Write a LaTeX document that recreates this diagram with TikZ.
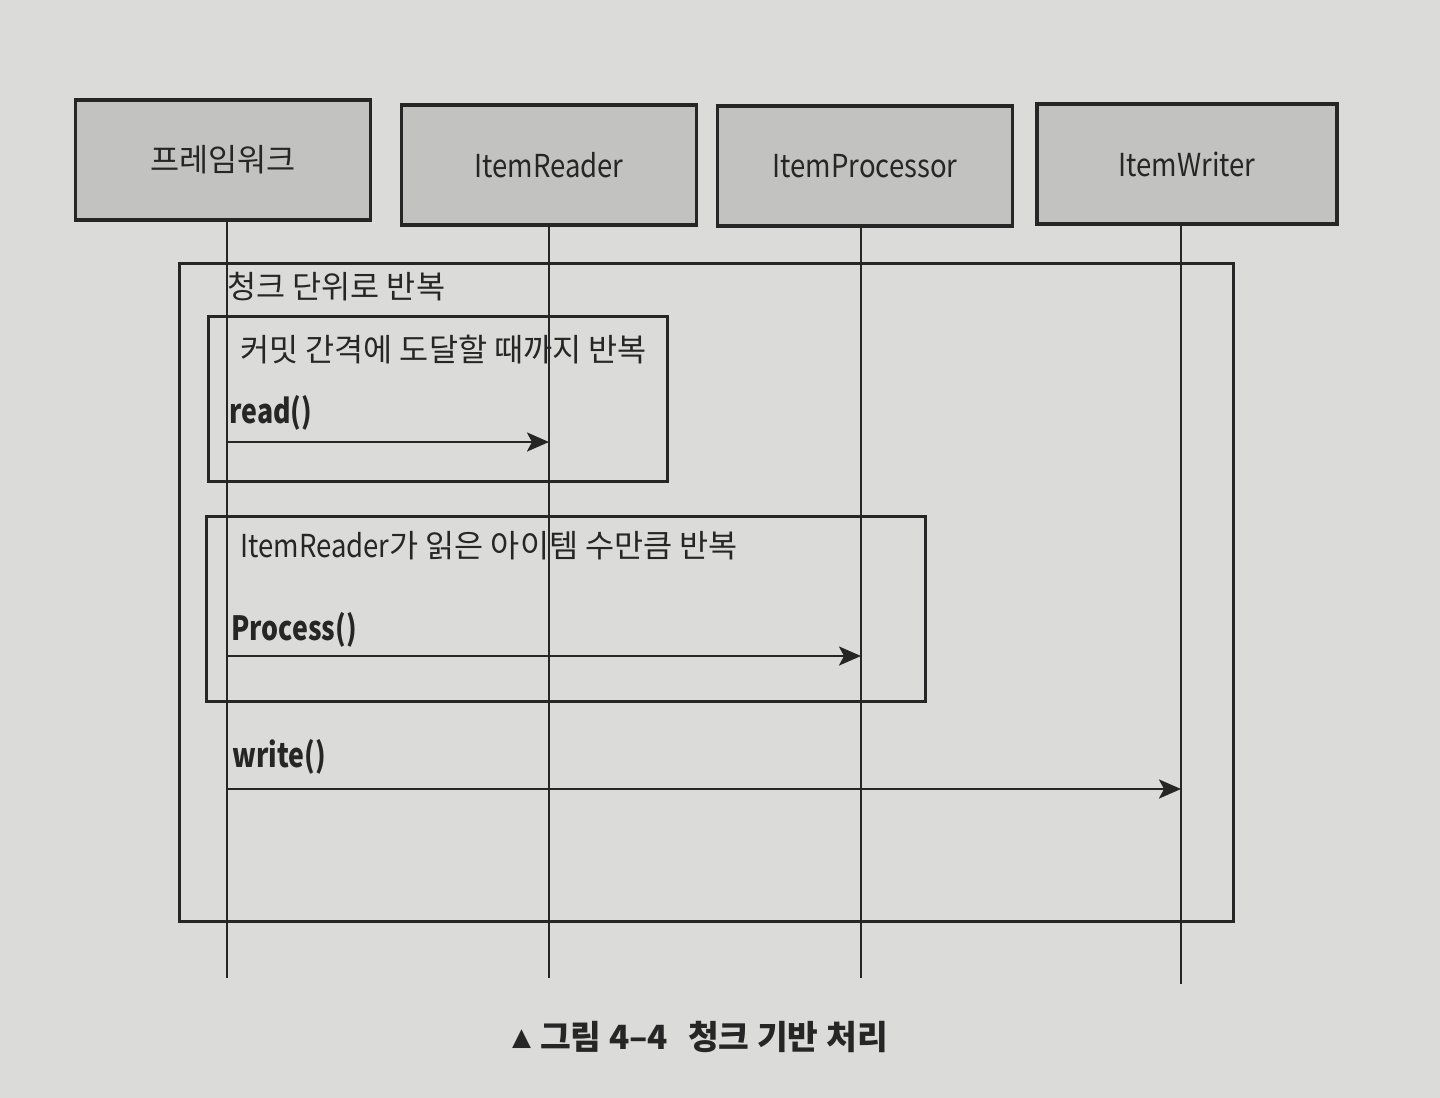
\documentclass[tikz,border=0pt]{standalone}
\usepackage{fontspec}
\setmainfont{Noto Sans CJK KR}
\newfontfamily\symfont{DejaVu Sans}
\usepackage{xcolor}
\usetikzlibrary{arrows, arrows.meta, positioning, calc}
\definecolor{paper}{RGB}{219,219,217}
\definecolor{boxgray}{RGB}{194,194,193}
\definecolor{ink}{RGB}{38,38,38}
% narrow latin text
\newcommand{\narrow}[2][0.87]{\scalebox{#1}[1]{#2}}

\begin{document}
\begin{tikzpicture}[x=0.02cm, y=-0.02cm, font=\fontsize{18}{22}\selectfont, text=ink]
    \tikzstyle{actor} = [rectangle, minimum width=5.9cm, minimum height=2.4cm, text centered, draw=ink, line width=2pt, fill=boxgray]
    \tikzstyle{life} = [draw=ink, line width=1.5pt]
    \tikzstyle{frame} = [draw=ink, line width=1.9pt]
    \tikzstyle{msg} = [draw=ink, line width=1.6pt, -{Stealth[length=0.44cm, width=0.38cm, inset=0.1cm]}]
    \tikzstyle{call} = [anchor=west, inner sep=0pt, font=\fontsize{19}{22}\selectfont\bfseries]
    \tikzstyle{tag} = [anchor=west, inner sep=0pt]

    \fill[paper] (0,0) rectangle (1440,1098);
    \useasboundingbox (0,0) rectangle (1440,1098);

    % Components
    \node (fw) [actor] at (223,160) {프레임워크};
    \node (reader) [actor] at (549,165) {\narrow{ItemReader}};
    \node (proc) [actor] at (865,166) {\narrow{ItemProcessor}};
    \node (writer) [actor, minimum width=6cm] at (1187,164) {\narrow{ItemWriter}};

    % Levels
    \coordinate (bottom) at (0,978);
    \coordinate (yread) at (0,442);
    \coordinate (yproc) at (0,656);
    \coordinate (ywrite) at (0,789);

    % Frames
    \node (chunk) [frame, rectangle, anchor=north west, minimum width=21.08cm, minimum height=13.16cm] at (178,262) {};
    \node (commit) [frame, rectangle, anchor=north west, minimum width=9.18cm, minimum height=3.3cm] at (207,315) {};
    \node (items) [frame, rectangle, anchor=north west, minimum width=14.38cm, minimum height=3.7cm] at (205,515) {};

    % Lifelines
    \draw [life] ($(fw.south)+(4,0)$) -- ($(fw |- bottom)+(4,0)$);
    \draw [life] (reader.south) -- (reader |- bottom);
    \draw [life] ($(proc.south)+(-4,0)$) -- ($(proc |- bottom)+(-4,0)$);
    \draw [life] ($(writer.south)+(-6,0)$) -- ($(writer |- bottom)+(-6,6)$);

    % Labels
    \node (chunkT) [tag] at (227,287) {청크 단위로 반복};
    \node (commitT) [tag] at (240,350) {커밋 간격에 도달할 때까지 반복};
    \node (itemsT) [tag] at (240,546) {\narrow{ItemReader}가 읽은 아이템 수만큼 반복};
    \node (readT) [call] at (229,413) {\narrow[0.8]{read()}};
    \node (procT) [call] at (231,630) {\narrow[0.8]{Process()}};
    \node (writeT) [call] at (232,757) {\narrow[0.8]{write()}};

    % Messages
    \draw [msg] ($(fw |- yread)+(4,0)$) -- (reader |- yread);
    \draw [msg] ($(fw |- yproc)+(4,0)$) -- ($(proc |- yproc)+(-4,0)$);
    \draw [msg] ($(fw |- ywrite)+(4,0)$) -- ($(writer |- ywrite)+(-6,0)$);

    \node (caption) [font=\fontsize{19}{22}\selectfont\bfseries] at (700,1037) {\raisebox{0.12em}{\symfont\fontsize{14}{14}\selectfont ▲}\hspace{0.18cm}그림 4–4\hspace{0.4cm}청크 기반 처리};
\end{tikzpicture}
\end{document}
